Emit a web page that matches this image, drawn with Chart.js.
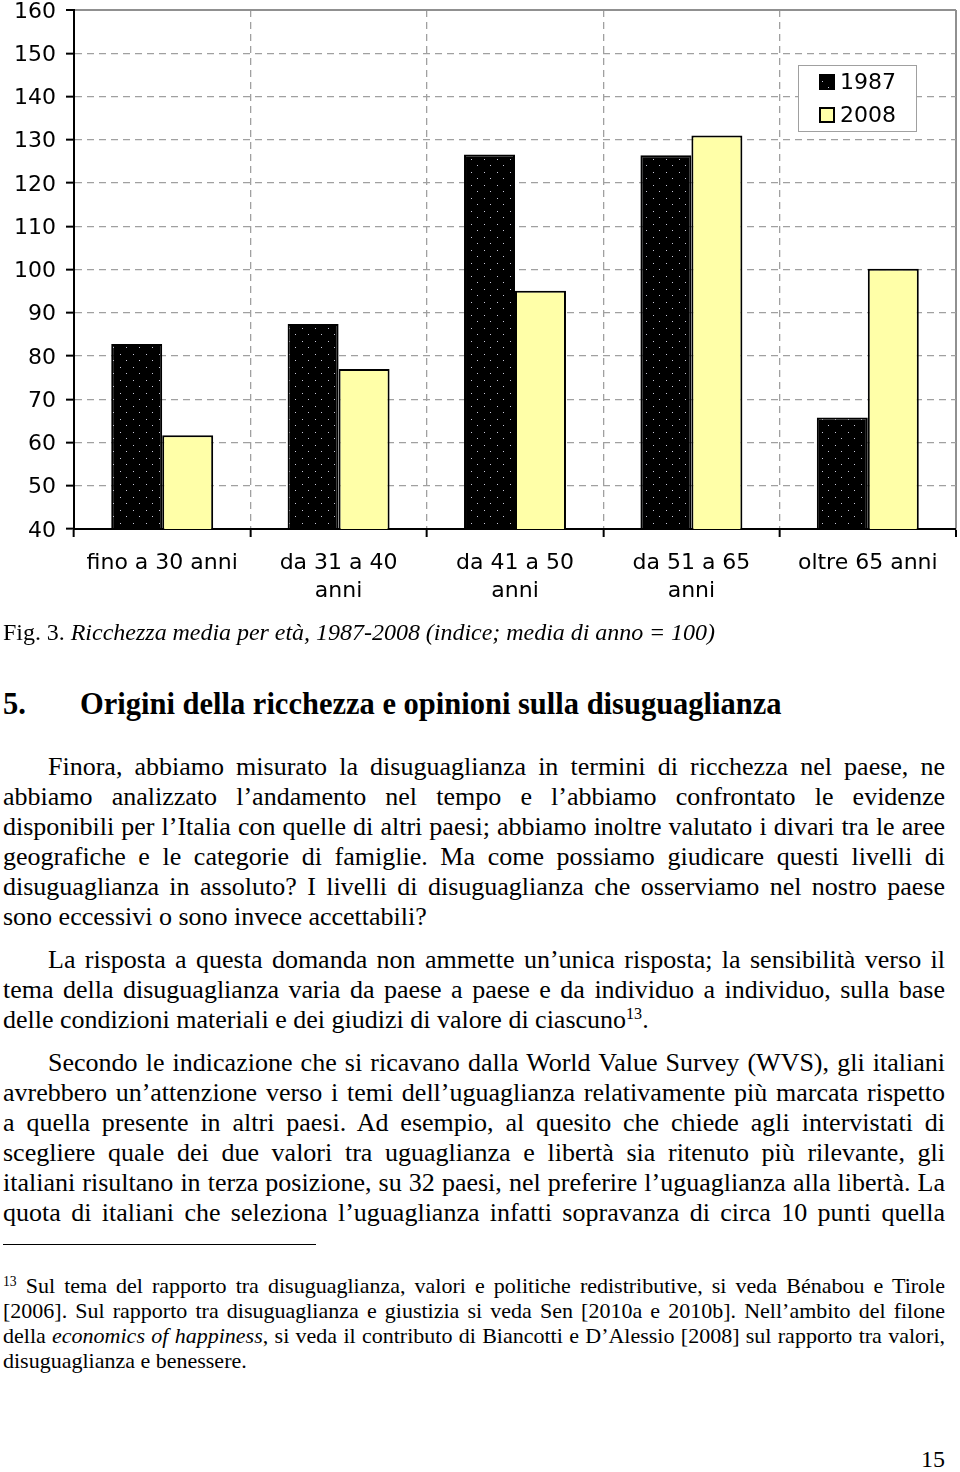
<!DOCTYPE html>
<html>
<head>
<meta charset="utf-8">
<script src="https://cdn.jsdelivr.net/npm/chart.js@4.4.1/dist/chart.umd.min.js"></script>
<style>
  html, body { margin: 0; padding: 0; background: #fff; }
  body { width: 960px; height: 1472px; position: relative; overflow: hidden; font-family: "Liberation Serif", "Times New Roman", serif; color: #000; }
  #wrap { position: absolute; left: 0; top: 0; width: 960px; height: 620px; }
  .ln { position: absolute; white-space: nowrap; font-size: 26px; line-height: 30px; height: 30px; }
  .cap { position: absolute; left: 3px; font-size: 24px; line-height: 28px; white-space: nowrap; }
  .h { position: absolute; left: 3px; font-size: 30.5px; font-weight: bold; line-height: 34px; white-space: nowrap; }
  .fn { position: absolute; font-size: 22px; line-height: 25px; height: 25px; white-space: nowrap; }
  sup { font-size: 0.62em; line-height: 0; vertical-align: 0.55em; }
</style>
</head>
<body>
<div id="wrap"><canvas id="c" width="960" height="620"></canvas></div>

<div class="cap" style="top:618px;" data-fit="712">Fig. 3. <i>Ricchezza media per età, 1987-2008 (indice; media di anno = 100)</i></div>

<div class="h" style="top:687px;"><span style="display:inline-block;width:77px;">5.</span>Origini della ricchezza e opinioni sulla disuguaglianza</div>

<div class="ln" style="top:752px;left:48px;" data-fit="897">Finora, abbiamo misurato la disuguaglianza in termini di ricchezza nel paese, ne</div>
<div class="ln" style="top:782px;left:3px;" data-fit="942">abbiamo analizzato l’andamento nel tempo e l’abbiamo confrontato le evidenze</div>
<div class="ln" style="top:812px;left:3px;" data-fit="942">disponibili per l’Italia con quelle di altri paesi; abbiamo inoltre valutato i divari tra le aree</div>
<div class="ln" style="top:842px;left:3px;" data-fit="942">geografiche e le categorie di famiglie. Ma come possiamo giudicare questi livelli di</div>
<div class="ln" style="top:872px;left:3px;" data-fit="942">disuguaglianza in assoluto? I livelli di disuguaglianza che osserviamo nel nostro paese</div>
<div class="ln" style="top:902px;left:3px;">sono eccessivi o sono invece accettabili?</div>

<div class="ln" style="top:945px;left:48px;" data-fit="897">La risposta a questa domanda non ammette un’unica risposta; la sensibilità verso il</div>
<div class="ln" style="top:975px;left:3px;" data-fit="942">tema della disuguaglianza varia da paese a paese e da individuo a individuo, sulla base</div>
<div class="ln" style="top:1005px;left:3px;">delle condizioni materiali e dei giudizi di valore di ciascuno<sup>13</sup>.</div>

<div class="ln" style="top:1048px;left:48px;" data-fit="897">Secondo le indicazione che si ricavano dalla World Value Survey (WVS), gli italiani</div>
<div class="ln" style="top:1078px;left:3px;" data-fit="942">avrebbero un’attenzione verso i temi dell’uguaglianza relativamente più marcata rispetto</div>
<div class="ln" style="top:1108px;left:3px;" data-fit="942">a quella presente in altri paesi. Ad esempio, al quesito che chiede agli intervistati di</div>
<div class="ln" style="top:1138px;left:3px;" data-fit="942">scegliere quale dei due valori tra uguaglianza e libertà sia ritenuto più rilevante, gli</div>
<div class="ln" style="top:1168px;left:3px;" data-fit="942">italiani risultano in terza posizione, su 32 paesi, nel preferire l’uguaglianza alla libertà. La</div>
<div class="ln" style="top:1198px;left:3px;" data-fit="942">quota di italiani che seleziona l’uguaglianza infatti sopravanza di circa 10 punti quella</div>

<div style="position:absolute;left:3px;top:1244px;width:313px;height:1px;background:#000;"></div>

<div class="fn" style="top:1273px;left:3px;" data-fit="942"><sup>13</sup> Sul tema del rapporto tra disuguaglianza, valori e politiche redistributive, si veda Bénabou e Tirole</div>
<div class="fn" style="top:1298px;left:3px;" data-fit="942">[2006]. Sul rapporto tra disuguaglianza e giustizia si veda Sen [2010a e 2010b]. Nell’ambito del filone</div>
<div class="fn" style="top:1323px;left:3px;" data-fit="942">della <i>economics of happiness</i>, si veda il contributo di Biancotti e D’Alessio [2008] sul rapporto tra valori,</div>
<div class="fn" style="top:1348px;left:3px;">disuguaglianza e benessere.</div>

<div style="position:absolute;right:15px;top:1444px;font-size:24px;line-height:30px;">15</div>

<script>
// ---- data ----
const categories = ["fino a 30 anni", ["da 31 a 40", "anni"], ["da 41 a 50", "anni"], ["da 51 a 65", "anni"], "oltre 65 anni"];
const seriesLabels = ["1987", "2008"];
const values1987 = [82.8, 87.4, 126.6, 126.4, 65.8];
const values2008 = [61.7, 77.0, 95.1, 131.0, 100.2];
const yTickMin = 40;
const yTickMax = 160;
const yTickStep = 10;

// ---- justify text lines to their measured widths ----
function fitLines() {
  document.querySelectorAll('[data-fit]').forEach(el => {
    if (!el.firstElementChild || !el.firstElementChild.classList.contains('inner')) {
      el.innerHTML = '<span class="inner">' + el.innerHTML + '</span>';
    }
    const inner = el.firstElementChild;
    el.style.wordSpacing = '0px';
    const natural = inner.getBoundingClientRect().width;
    const target = parseFloat(el.dataset.fit);
    const spaces = (el.textContent.match(/ /g) || []).length;
    if (spaces > 0) el.style.wordSpacing = ((target - natural) / spaces) + 'px';
  });
}
fitLines();
if (document.fonts && document.fonts.ready) document.fonts.ready.then(fitLines);

// ---- dotted black pattern for 1987 ----
function dotPattern() {
  const p = document.createElement('canvas');
  p.width = 13; p.height = 13;
  const g = p.getContext('2d');
  g.fillStyle = '#000';
  g.fillRect(0, 0, 13, 13);
  g.fillStyle = '#c8c8d8';
  g.fillRect(3, 3, 1, 1);
  g.fillRect(9, 9, 1, 1);
  return g.createPattern(p, 'repeat');
}
const ctx = document.getElementById('c').getContext('2d');
const blackDots = dotPattern();
const yellow = '#ffffa8';

const legendPlugin = {
  id: 'boxLegend',
  afterDraw(chart) {
    const c = chart.ctx;
    const a = chart.chartArea;
    const bx = a.right - 158, by = a.top + 55, bw = 118, bh = 66;
    c.save();
    c.strokeStyle = '#a0a0a0';
    c.lineWidth = 1;
    c.fillStyle = '#fff';
    c.fillRect(bx, by, bw, bh);
    c.strokeRect(bx + 0.5, by + 0.5, bw, bh);
    c.font = '22px "DejaVu Sans"';
    c.textBaseline = 'middle';
    chart.data.datasets.forEach((ds, i) => {
      const cy = by + 17 + i * 33;
      c.fillStyle = ds.backgroundColor;
      c.fillRect(bx + 22, cy - 7, 14, 14);
      c.strokeStyle = '#000';
      c.lineWidth = 2;
      c.strokeRect(bx + 22, cy - 7, 14, 14);
      c.fillStyle = '#000';
      c.fillText(ds.label, bx + 42, cy + 1);
    });
    c.restore();
  }
};

new Chart(ctx, {
  type: 'bar',
  data: {
    labels: categories,
    datasets: [
      { label: seriesLabels[0], data: values1987, backgroundColor: blackDots, borderColor: '#000', borderWidth: 2 },
      { label: seriesLabels[1], data: values2008, backgroundColor: yellow, borderColor: '#000', borderWidth: 2 }
    ]
  },
  options: {
    responsive: false,
    animation: false,
    events: [],
    layout: { padding: { left: 0, right: 4, top: 10, bottom: 0 } },
    plugins: { legend: { display: false }, tooltip: { enabled: false } },
    datasets: { bar: { categoryPercentage: 0.578, barPercentage: 1.0 } },
    scales: {
      x: {
        grid: {
          offset: true,
          color: (c) => (c.index === undefined ? '#909090' : '#a0a0a0'),
          lineWidth: (c) => (c.index === undefined ? 2 : 1.3),
          drawTicks: true,
          tickLength: 8,
          tickColor: '#000',
          tickWidth: 2
        },
        border: {
          display: true, color: '#000', width: 2,
          dash: (c) => (c.index === undefined ? [] : [7, 5])
        },
        ticks: {
          color: '#000',
          padding: 12,
          maxRotation: 0,
          autoSkip: false,
          font: { family: '"DejaVu Sans"', size: 22, lineHeight: 28 / 22 }
        },
        afterFit(s) { s.height = 91; s.paddingLeft = 0; s.paddingRight = 0; }
      },
      y: {
        min: yTickMin,
        max: yTickMax,
        ticks: {
          stepSize: yTickStep,
          color: '#000',
          padding: 10,
          labelOffset: 2,
          font: { family: '"DejaVu Sans"', size: 22 }
        },
        grid: {
          color: (c) => (c.tick && c.tick.value === yTickMax ? '#909090' : '#a0a0a0'),
          lineWidth: (c) => (c.tick && c.tick.value === yTickMax ? 2 : 1.3),
          drawTicks: true,
          tickLength: 8,
          tickColor: '#000',
          tickWidth: 2
        },
        border: {
          display: true, color: '#000', width: 2,
          dash: (c) => (c.tick && c.tick.value === yTickMax ? [] : [7, 5])
        },
        afterFit(s) { s.width = 74; s.paddingTop = 0; s.paddingBottom = 0; }
      }
    }
  },
  plugins: [legendPlugin]
});
</script>
</body>
</html>
